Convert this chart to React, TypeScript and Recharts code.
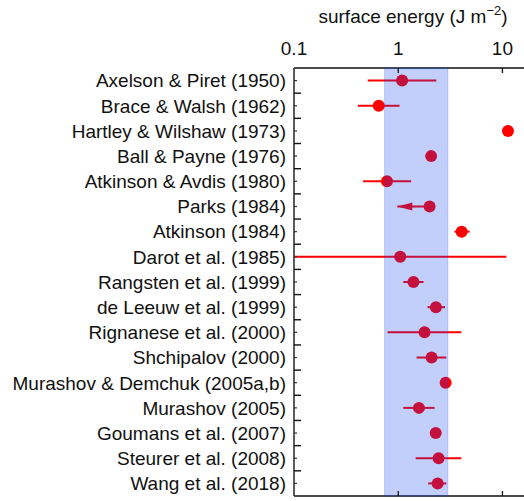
import { ScatterChart, Scatter, XAxis, YAxis, ErrorBar, ReferenceArea } from 'recharts';

// Reported surface energies (J m^-2), one row per study, top to bottom
const studies = [
  'Axelson & Piret (1950)',
  'Brace & Walsh (1962)',
  'Hartley & Wilshaw (1973)',
  'Ball & Payne (1976)',
  'Atkinson & Avdis (1980)',
  'Parks (1984)',
  'Atkinson (1984)',
  'Darot et al. (1985)',
  'Rangsten et al. (1999)',
  'de Leeuw et al. (1999)',
  'Rignanese et al. (2000)',
  'Shchipalov (2000)',
  'Murashov & Demchuk (2005a,b)',
  'Murashov (2005)',
  'Goumans et al. (2007)',
  'Steurer et al. (2008)',
  'Wang et al. (2018)',
];
const energies = [1.09, 0.65, 11.3, 2.07, 0.78, 2.0, 4.06, 1.045, 1.4, 2.3, 1.79, 2.09, 2.85, 1.58, 2.29, 2.44, 2.39];
const lowerBounds = [0.51, 0.41, 11.3, 2.07, 0.46, 0.98, 3.47, 0.1, 1.12, 1.91, 0.79, 1.5, 2.85, 1.12, 2.29, 1.47, 1.94];
const upperBounds = [2.32, 1.03, 11.3, 2.07, 1.33, 2.0, 4.85, 10.9, 1.75, 2.81, 4.03, 2.89, 2.85, 2.23, 2.29, 4.03, 2.89];

// Parks only gives an upper bound: arrow points down to this value
const arrowStudies = ['Parks (1984)'];
const arrowTips = [0.98];

const consensusRange = [0.74, 3.0];
const energyTicks = [0.1, 1, 10];
const energyDomain = [0.1, 16.1];

const RED = '#ff0000';
const FONT = '"Liberation Sans", Arial, Helvetica, sans-serif';
const FONT_SIZE = 19;

const points = studies.map((study, i) => ({
  study,
  row: i + 1,
  energy: energies[i],
  err: [energies[i] - lowerBounds[i], upperBounds[i] - energies[i]],
}));

const arrows = arrowStudies.map((study, i) => ({
  study,
  row: studies.indexOf(study) + 1,
  energy: arrowTips[i],
}));

// centers get a label + short tick, row boundaries get a longer tick
const rowTicks: number[] = [];
for (let r = 0.5; r <= studies.length + 0.5; r += 0.5) rowTicks.push(r);

const StudyTick = (props: any) => {
  const { x, y, payload } = props;
  const v = payload.value;
  if (Number.isInteger(v)) {
    return (
      <g>
        <line x1={x} x2={x + 3} y1={y} y2={y} stroke="#333" strokeWidth={1.2} />
        <text x={x - 8} y={y} dy="0.36em" textAnchor="end" fontSize={FONT_SIZE} fill="#111" fontFamily={FONT}>
          {studies[v - 1]}
        </text>
      </g>
    );
  }
  if (v <= 0.5 || v >= studies.length + 0.5) return <g />;
  return <line x1={x} x2={x + 7} y1={y} y2={y} stroke="#111" strokeWidth={1.4} />;
};

const TopTick = (props: any) => {
  const { x, y, payload } = props;
  return (
    <g>
      {payload.value > 0.1 && <line x1={x} x2={x} y1={y} y2={y + 5} stroke="#111" strokeWidth={1.3} />}
      <text x={x} y={y - 13} textAnchor="middle" fontSize={FONT_SIZE} fill="#111" fontFamily={FONT}>
        {payload.value}
      </text>
    </g>
  );
};

const BottomTick = (props: any) => {
  const { x, y, payload } = props;
  if (payload.value <= 0.1) return <g />;
  return <line x1={x} x2={x} y1={y} y2={y - 5} stroke="#111" strokeWidth={1.3} />;
};

const AxisTitle = (props: any) => {
  const vb = props.viewBox || { x: 294, width: 230 };
  return (
    <text x={vb.x + vb.width / 2 + 4} y={23} textAnchor="middle" fontSize={FONT_SIZE} fill="#111" fontFamily={FONT}>
      surface energy (J m
      <tspan dy={-8} fontSize={13}>−2</tspan>
      <tspan dy={8}>)</tspan>
    </text>
  );
};

const Dot = (props: any) => <circle cx={props.cx} cy={props.cy} r={6} fill={RED} />;

const ArrowHead = (props: any) => {
  const { cx, cy } = props;
  return <path d={`M${cx},${cy} L${cx + 15},${cy - 4} L${cx + 15},${cy + 4} Z`} fill={RED} />;
};

export default function App() {
  return (
    <div style={{ position: 'absolute', left: 0, top: 0, width: 524, height: 501, background: '#fff', fontFamily: FONT }}>
      <ScatterChart width={524} height={501} margin={{ top: 0, right: 0, bottom: 0, left: 0 }}>
        <XAxis
          xAxisId="top"
          orientation="top"
          type="number"
          dataKey="energy"
          scale="log"
          domain={energyDomain}
          allowDataOverflow
          ticks={energyTicks}
          interval={0}
          height={68}
          tickSize={0}
          tickMargin={0}
          tickLine={false}
          tick={<TopTick />}
          axisLine={{ stroke: '#111', strokeWidth: 1.4 }}
          label={<AxisTitle />}
        />
        <XAxis
          xAxisId="bottom"
          orientation="bottom"
          type="number"
          dataKey="energy"
          scale="log"
          domain={energyDomain}
          allowDataOverflow
          ticks={energyTicks}
          interval={0}
          height={5}
          tickSize={0}
          tickMargin={0}
          tickLine={false}
          tick={<BottomTick />}
          axisLine={{ stroke: '#111', strokeWidth: 1.4 }}
        />
        <YAxis
          type="number"
          dataKey="row"
          domain={[0.5, studies.length + 0.5]}
          reversed
          allowDataOverflow
          ticks={rowTicks}
          interval={0}
          width={294}
          tickSize={0}
          tickMargin={0}
          tickLine={false}
          tick={<StudyTick />}
          axisLine={{ stroke: '#333', strokeWidth: 1.6 }}
        />
        <Scatter xAxisId="top" data={points} shape={<Dot />} isAnimationActive={false}>
          <ErrorBar dataKey="err" direction="x" width={0} stroke={RED} strokeWidth={2} isAnimationActive={false} />
        </Scatter>
        <Scatter xAxisId="top" data={arrows} shape={<ArrowHead />} isAnimationActive={false} />
        <ReferenceArea
          xAxisId="top"
          x1={consensusRange[0]}
          x2={consensusRange[1]}
          fill="#1040f0"
          fillOpacity={0.25}
          stroke="#1040f0"
          strokeOpacity={0.2}
          zIndex={700}
        />
      </ScatterChart>
    </div>
  );
}
